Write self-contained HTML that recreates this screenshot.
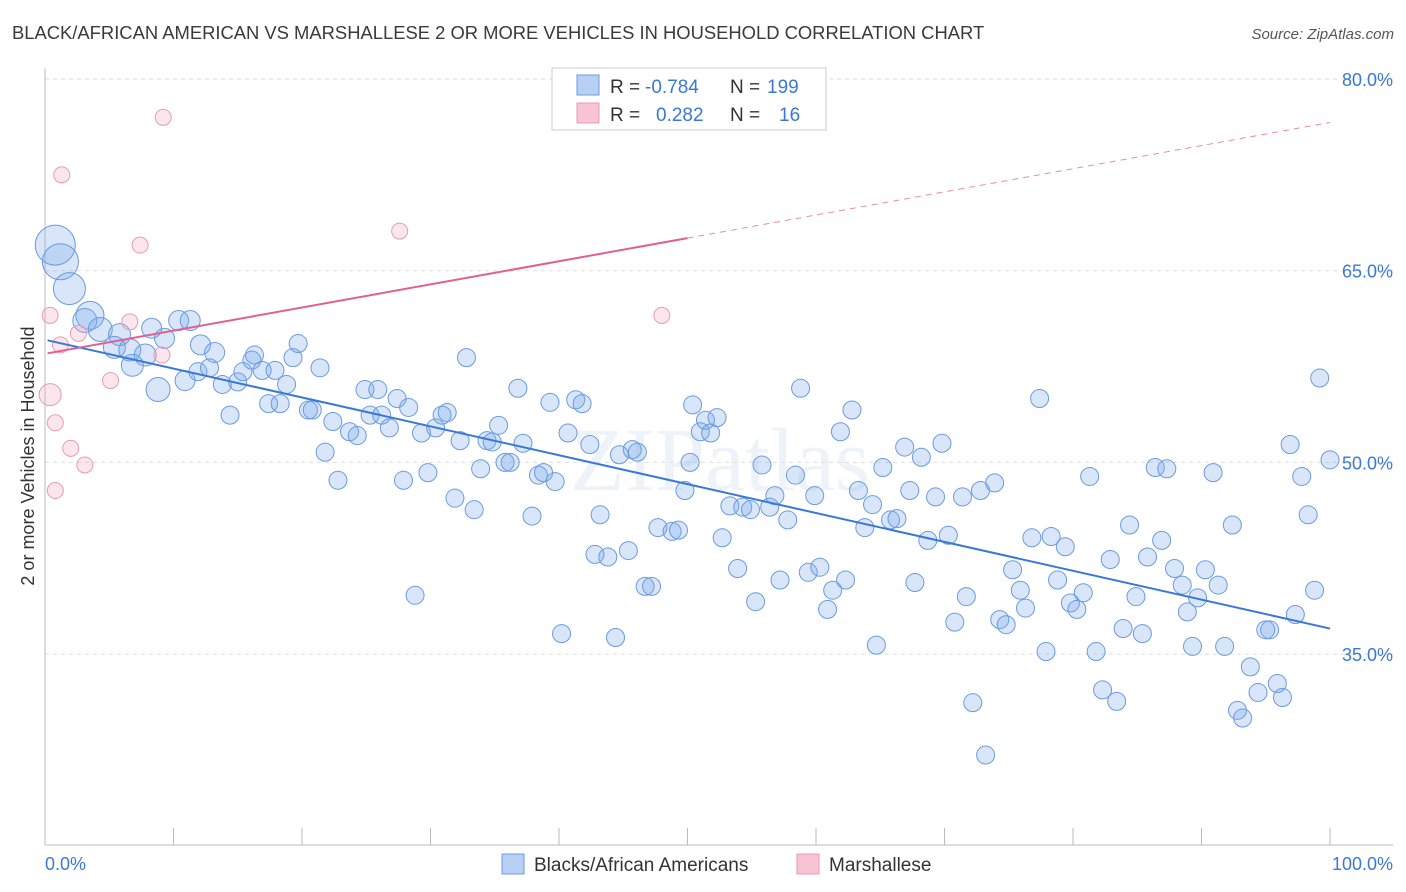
<!DOCTYPE html>
<html><head><meta charset="utf-8"><style>
body{margin:0;background:#fff;font-family:"Liberation Sans",sans-serif;}
svg{display:block}
</style></head><body>
<svg id="chart" width="1406" height="892" xmlns="http://www.w3.org/2000/svg">
<text x="12" y="39" font-size="18.4" fill="#3a3a3a" font-family="Liberation Sans, sans-serif">BLACK/AFRICAN AMERICAN VS MARSHALLESE 2 OR MORE VEHICLES IN HOUSEHOLD CORRELATION CHART</text>
<text x="1394" y="39" font-size="15" fill="#555" text-anchor="end" font-style="italic">Source: ZipAtlas.com</text>
<text x="720" y="490" font-size="90" fill="#dfe8f5" text-anchor="middle" font-family="Liberation Serif, serif" opacity="0.5">ZIPatlas</text>
<g id="grid"></g>
<g id="axes"></g>
<g id="marks"></g>
<text transform="translate(34,456) rotate(-90)" font-size="18" fill="#333" text-anchor="middle">2 or more Vehicles in Household</text>
<g>
<rect x="552" y="68" width="274" height="62" fill="#fff" stroke="#ccc"/>
<rect x="577" y="75" width="22" height="20" fill="#b8d0f4" stroke="#6a9be0"/>
<rect x="577" y="103" width="22" height="20" fill="#f9c4d4" stroke="#e89ab5"/>
<text x="610" y="93" font-size="19" fill="#333">R =</text>
<text x="645" y="93" font-size="19" fill="#3a78d8">-0.784</text>
<text x="730" y="93" font-size="19" fill="#333">N =</text>
<text x="767" y="93" font-size="19" fill="#3a78d8">199</text>
<text x="610" y="121" font-size="19" fill="#333">R =</text>
<text x="656" y="121" font-size="19" fill="#3a78d8">0.282</text>
<text x="730" y="121" font-size="19" fill="#333">N =</text>
<text x="779" y="121" font-size="19" fill="#3a78d8">16</text>
</g>
<g>
<rect x="502" y="854" width="22" height="20" fill="#b8d0f4" stroke="#6a9be0"/>
<text x="534" y="871" font-size="19" fill="#333">Blacks/African Americans</text>
<rect x="797" y="854" width="22" height="20" fill="#f9c4d4" stroke="#e89ab5"/>
<text x="829" y="871" font-size="19" fill="#333">Marshallese</text>
</g>
</svg>
<script>
const yTicks=[80,65,50,35];
const xTickLabels=["0.0%","100.0%"];
const blueX=[0.8,1.2,1.9,3.5,3.1,4.3,5.8,5.4,6.6,7.8,6.8,8.3,9.3,10.4,11.3,8.8,10.9,12.1,13.2,11.9,12.8,13.8,14.4,15.0,15.4,16.1,16.3,16.9,17.9,17.4,18.3,18.8,19.3,19.7,20.5,20.8,21.4,21.8,22.4,22.8,23.7,24.3,24.9,25.3,25.9,26.2,26.8,27.4,28.3,27.9,28.8,29.3,29.8,30.4,30.9,31.3,31.9,32.3,32.8,33.4,33.9,34.4,34.8,35.3,35.8,36.2,36.8,37.2,37.9,38.4,38.8,39.3,39.7,40.2,40.7,41.3,41.8,42.4,42.8,43.2,43.8,44.4,44.7,45.4,45.7,46.1,46.7,47.2,47.7,48.8,49.3,49.8,50.2,50.4,51.0,51.4,51.8,52.3,52.7,53.3,53.9,54.3,54.9,55.3,55.8,56.4,56.8,57.2,57.8,58.4,58.8,59.4,59.9,60.3,60.9,61.3,61.9,62.3,62.8,63.3,63.8,64.4,64.7,65.2,65.8,66.3,66.9,67.3,67.7,68.2,68.7,69.3,69.8,70.3,70.8,71.4,71.7,72.2,72.8,73.2,73.9,74.3,74.8,75.3,75.9,76.3,76.8,77.4,77.9,78.3,78.8,79.4,79.8,80.3,80.8,81.3,81.8,82.3,82.9,83.4,83.9,84.4,84.9,85.4,85.8,86.4,86.9,87.3,87.9,88.5,88.9,89.3,89.7,90.3,90.9,91.3,91.8,92.4,92.8,93.2,93.8,94.4,95.0,95.3,95.9,96.3,96.9,97.3,97.8,98.3,98.8,99.2,100.0];
const blueY=[67.0,65.7,63.6,61.5,61.1,60.4,60.0,59.0,58.8,58.4,57.6,60.5,59.7,61.1,61.1,55.7,56.4,59.2,58.6,57.1,57.4,56.1,53.7,56.3,57.1,58.0,58.4,57.2,57.2,54.6,54.6,56.1,58.2,59.3,54.1,54.1,57.4,50.8,53.2,48.6,52.4,52.1,55.7,53.7,55.7,53.7,52.7,55.0,54.3,48.6,39.6,52.3,49.2,52.7,53.7,53.9,47.2,51.7,58.2,46.3,49.5,51.7,51.6,52.9,50.0,50.0,55.8,51.5,45.8,49.0,49.2,54.7,48.5,36.6,52.3,54.9,54.6,51.4,42.8,45.9,42.6,36.3,50.6,43.1,51.0,50.8,40.3,40.3,44.9,44.6,44.7,47.8,50.0,54.5,52.4,53.3,52.3,53.5,44.1,46.6,41.7,46.5,46.3,39.1,49.8,46.5,47.4,40.8,45.5,49.0,55.8,41.4,47.4,41.8,38.5,40.0,52.4,40.8,54.1,47.8,44.9,46.7,35.7,49.6,45.5,45.6,51.2,47.8,40.6,50.4,43.9,47.3,51.5,44.3,37.5,47.3,39.5,31.2,47.8,27.1,48.4,37.7,37.3,41.6,40.0,38.6,44.1,55.0,35.2,44.2,40.8,43.4,39.0,38.5,39.8,48.9,35.2,32.2,42.4,31.3,37.0,45.1,39.5,36.6,42.6,49.6,43.9,49.5,41.7,40.4,38.3,35.6,39.4,41.6,49.2,40.4,35.6,45.1,30.6,30.0,34.0,32.0,36.9,36.9,32.7,31.6,51.4,38.1,48.9,45.9,40.0,56.6,50.2];
const blueSize=[20,18,16,14,12,12,11,11,11,11,11,10,10,10,10,12,10,10,10];
const pinkX=[0.4,0.4,0.8,0.8,1.3,1.2,2.0,2.6,3.1,5.1,6.6,7.4,9.1,9.2,27.6,48.0];
const pinkY=[55.3,61.5,53.1,47.8,72.5,59.2,51.1,60.1,49.8,56.4,61.0,67.0,58.4,77.0,68.1,61.5];
const blueTrend=[59.6,-0.226];
const pinkTrend=[58.5,0.181];
const X0=45,X1=1330,YT=79,PX=12.78;
const xs=v=>X0+(X1-X0)*v/100;
const ys=v=>YT+(80-v)*PX;
const NS="http://www.w3.org/2000/svg";
function mk(tag,parent,attrs){const e=document.createElementNS(NS,tag);for(const k in attrs)e.setAttribute(k,attrs[k]);parent.appendChild(e);return e;}
const grid=document.getElementById('grid'),axes=document.getElementById('axes'),marks=document.getElementById('marks');
yTicks.forEach(t=>{
  const l=mk('line',grid,{x1:45,x2:1393,y1:ys(t),y2:ys(t),stroke:'#ddd','stroke-dasharray':'4,4'});
  
  
  const tx=mk('text',axes,{x:1393,y:ys(t)+7,'font-size':18,fill:'#3a78d8','text-anchor':'end'});
  tx.textContent=t.toFixed(1)+'%';
  
  
});
const xa=mk('line',axes,{x1:45,x2:1393,y1:845,y2:845,stroke:'#bbb'});


const ya=mk('line',axes,{x1:45,x2:45,y1:68,y2:845,stroke:'#bbb'});


for(let i=0;i<=10;i++){const x=xs(i*10);const t=mk('line',axes,{x1:x,x2:x,y1:828,y2:845,stroke:'#bbb'});
  
  }
[[0,45,'start'],[1,1393,'end']].forEach(([i,x,a])=>{const t=mk('text',axes,{x:x,y:870,'font-size':18,fill:'#3a78d8','text-anchor':a});t.textContent=xTickLabels[i];
  
  });
blueX.forEach((v,i)=>{const c=mk('circle',marks,{cx:xs(v),cy:ys(blueY[i]),r:blueSize[i]||9,fill:'rgba(120,165,235,0.28)',stroke:'#6a9be0','stroke-width':1});
  
  });
pinkX.forEach((v,i)=>{const c=mk('circle',marks,{cx:xs(v),cy:ys(pinkY[i]),r:i==0?11:8,fill:'rgba(245,165,195,0.28)',stroke:'#e89ab5','stroke-width':1});
  
  });
const bl=mk('line',marks,{x1:xs(0.2),y1:ys(blueTrend[0]+blueTrend[1]*0.2),x2:xs(100),y2:ys(blueTrend[0]+blueTrend[1]*100),stroke:'#3a78d8','stroke-width':2});


const pl=mk('line',marks,{x1:xs(0.2),y1:ys(pinkTrend[0]+pinkTrend[1]*0.2),x2:xs(50),y2:ys(pinkTrend[0]+pinkTrend[1]*50),stroke:'#e0608f','stroke-width':2});


const pd=mk('line',marks,{x1:xs(50),y1:ys(pinkTrend[0]+pinkTrend[1]*50),x2:xs(100),y2:ys(pinkTrend[0]+pinkTrend[1]*100),stroke:'#e88aab','stroke-width':1,'stroke-dasharray':'6,5'});


</script>
</body></html>
